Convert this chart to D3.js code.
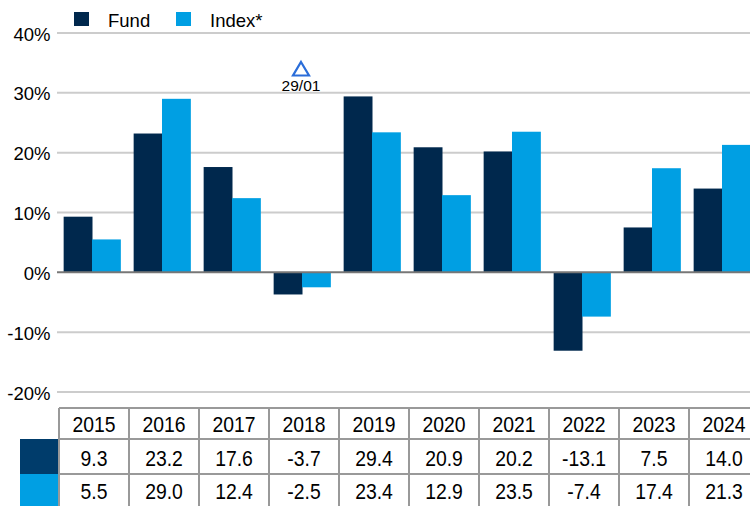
<!DOCTYPE html>
<html lang="en">
<head>
    <meta charset="UTF-8">
    <script src="https://cdn.jsdelivr.net/npm/d3@7"></script>
    <title>Fund vs Index</title>
    <style>
        body { margin: 0; background: white; }
        svg { display: block; font-family: Arial, "Liberation Sans", sans-serif; }
    </style>
</head>
<body>
    <div class="chart"></div>

    <script>
        // data
        const years = ["2015", "2016", "2017", "2018", "2019", "2020", "2021", "2022", "2023", "2024"];
        const fund = [9.3, 23.2, 17.6, -3.7, 29.4, 20.9, 20.2, -13.1, 7.5, 14.0];
        const indexVals = [5.5, 29.0, 12.4, -2.5, 23.4, 12.9, 23.5, -7.4, 17.4, 21.3];
        const seriesNames = ["Fund", "Index*"];
        const yTicks = [-20, -10, 0, 10, 20, 30, 40];
        const marker = { year: "2018", label: "29/01" };

        const width = 750, height = 506;
        const colors = ["#00284d", "#009fe3"];
        const swatchColors = ["#003c6b", "#009fe3"];
        const textColor = "#000";

        const svg = d3.select(".chart").append("svg")
            .attr("width", width)
            .attr("height", height);

        const x = d3.scaleBand()
            .domain(years)
            .range([57, 757])
            .paddingInner(0.19)
            .paddingOuter(0.095);

        const xSub = d3.scaleBand()
            .domain([0, 1])
            .range([0, x.bandwidth()]);

        const y = d3.scaleLinear()
            .domain([-20, 40])
            .range([392, 33]);

        // gridlines
        svg.append("g").selectAll("line")
            .data(yTicks.filter(t => t !== 0))
            .enter().append("line")
            .attr("x1", 57).attr("x2", width)
            .attr("y1", d => y(d)).attr("y2", d => y(d))
            .attr("stroke", "#cccccc")
            .attr("stroke-width", 2);

        // y labels
        svg.append("g").selectAll("text")
            .data(yTicks)
            .enter().append("text")
            .attr("x", 50.5)
            .attr("y", d => y(d) + 7.5)
            .attr("text-anchor", "end")
            .attr("font-size", 18.5)
            .attr("fill", textColor)
            .text(d => d + "%");

        // bars
        const groups = svg.append("g").selectAll("g")
            .data(years)
            .enter().append("g")
            .attr("transform", d => `translate(${x(d)},0)`);

        groups.selectAll("rect")
            .data((d, i) => [fund[i], indexVals[i]])
            .enter().append("rect")
            .attr("x", (d, j) => xSub(j))
            .attr("width", xSub.bandwidth() + 0.5)
            .attr("y", d => Math.min(y(d), y(0)))
            .attr("height", d => Math.abs(y(d) - y(0)))
            .attr("fill", (d, j) => colors[j]);

        // zero line
        svg.append("line")
            .attr("x1", 57).attr("x2", width)
            .attr("y1", y(0)).attr("y2", y(0))
            .attr("stroke", "#777")
            .attr("stroke-width", 2);

        // marker triangle
        const mx = x(marker.year) + x.bandwidth() / 2 - 1;
        svg.append("path")
            .attr("d", `M${mx},62 L${mx + 8},75.5 L${mx - 8},75.5 Z`)
            .attr("fill", "none")
            .attr("stroke", "#2a6dd9")
            .attr("stroke-width", 2.2);
        svg.append("text")
            .attr("x", mx)
            .attr("y", 90.5)
            .attr("text-anchor", "middle")
            .attr("font-size", 15.5)
            .attr("fill", textColor)
            .text(marker.label);

        // legend
        const legend = svg.append("g");
        const legendX = [74, 176];
        seriesNames.forEach((name, i) => {
            legend.append("rect")
                .attr("x", legendX[i]).attr("y", 12)
                .attr("width", 15).attr("height", 14)
                .attr("fill", colors[i]);
            legend.append("text")
                .attr("x", legendX[i] + 34)
                .attr("y", 26.5)
                .attr("font-size", 18.5)
                .attr("fill", textColor)
                .text(name);
        });

        // data table
        const col = d3.scaleBand()
            .domain(years)
            .range([59, 759]);
        const rowTop = [408, 439, 474, 509];
        const table = svg.append("g");

        // swatches
        [0, 1].forEach(i => {
            table.append("rect")
                .attr("x", 20).attr("y", rowTop[i + 1])
                .attr("width", 39).attr("height", rowTop[i + 2] - rowTop[i + 1])
                .attr("fill", swatchColors[i]);
        });

        // borders
        rowTop.slice(0, 3).forEach(r => {
            table.append("line")
                .attr("x1", 59).attr("x2", width)
                .attr("y1", r).attr("y2", r)
                .attr("stroke", "#999").attr("stroke-width", 2);
        });
        years.concat(["end"]).forEach(yr => {
            const xx = yr === "end" ? 759 : col(yr);
            table.append("line")
                .attr("x1", xx).attr("x2", xx)
                .attr("y1", rowTop[0]).attr("y2", height)
                .attr("stroke", "#999").attr("stroke-width", 2);
        });

        const rows = [years, fund.map(v => v.toFixed(1)), indexVals.map(v => v.toFixed(1))];
        const baselines = [431.5, 465.7, 499.3];
        rows.forEach((row, r) => {
            table.append("g").selectAll("text")
                .data(row)
                .enter().append("text")
                .attr("text-anchor", "middle")
                .attr("font-size", 22)
                .attr("fill", textColor)
                .attr("transform", (d, i) => `translate(${col(years[i]) + col.bandwidth() / 2},${baselines[r]}) scale(0.88,1)`)
                .text(d => d);
        });
    </script>
</body>
</html>
